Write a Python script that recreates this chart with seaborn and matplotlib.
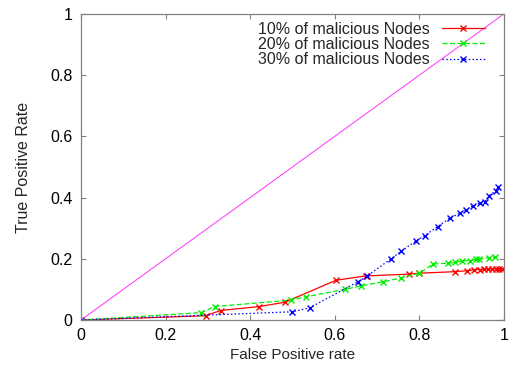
import numpy as np
import pandas as pd
import matplotlib
matplotlib.use("Agg")
import matplotlib.pyplot as plt
import seaborn as sns

# ROC points (false positive rate, true positive rate)
fpr_10 = [0, 0.295, 0.33, 0.421, 0.482, 0.603, 0.673, 0.775, 0.80, 0.884,
          0.912, 0.929, 0.943, 0.953, 0.962, 0.972, 0.981, 0.988, 0.995]
tpr_10 = [0, 0.014, 0.031, 0.044, 0.058, 0.130, 0.144, 0.150, 0.153, 0.158,
          0.161, 0.164, 0.165, 0.166, 0.167, 0.167, 0.168, 0.168, 0.168]

fpr_20 = [0, 0.283, 0.316, 0.496, 0.532, 0.624, 0.663, 0.715, 0.756, 0.80,
          0.833, 0.869, 0.884, 0.90, 0.92, 0.935, 0.942, 0.965, 0.979]
tpr_20 = [0, 0.024, 0.044, 0.065, 0.076, 0.100, 0.112, 0.125, 0.137, 0.153,
          0.183, 0.186, 0.188, 0.193, 0.194, 0.198, 0.199, 0.204, 0.205]

fpr_30 = [0, 0.50, 0.541, 0.655, 0.677, 0.733, 0.756, 0.793, 0.813, 0.843,
          0.872, 0.896, 0.910, 0.927, 0.943, 0.955, 0.965, 0.982, 0.986]
tpr_30 = [0, 0.027, 0.040, 0.125, 0.144, 0.200, 0.224, 0.259, 0.276, 0.305,
          0.333, 0.349, 0.360, 0.373, 0.382, 0.387, 0.406, 0.423, 0.434]

diag = [0, 1]
labels = ["10% of malicious Nodes", "20% of malicious Nodes", "30% of malicious Nodes"]
ticks = [0, 0.2, 0.4, 0.6, 0.8, 1]
tick_labels = ["0", "0.2", "0.4", "0.6", "0.8", "1"]

sns.set_theme(style="ticks")
plt.rcParams["font.family"] = ["Liberation Sans", "DejaVu Sans"]
plt.rcParams["font.size"] = 10

fig = plt.figure(figsize=(5.09, 3.67), dpi=100)
ax = fig.add_axes([0.159, 0.128, 0.831, 0.834])

series = [
    (fpr_10, tpr_10, labels[0], "#ff0000", "-"),
    (fpr_20, tpr_20, labels[1], "#00ee00", (0, (4, 2))),
    (fpr_30, tpr_30, labels[2], "#0000ff", (0, (1.2, 1.8))),
]
for x, y, name, col, ls in series:
    df = pd.DataFrame({"fpr": x, "tpr": y})
    sns.lineplot(data=df, x="fpr", y="tpr", ax=ax, color=col, linestyle=ls,
                 linewidth=0.9, marker="x", markersize=4, markeredgewidth=1,
                 markeredgecolor=col, sort=False, estimator=None, label=name)

# random-guess diagonal
sns.lineplot(x=diag, y=diag, ax=ax, color="#ff33ff", linewidth=0.7,
             estimator=None, legend=False)

ax.set_xlim(0, 1)
ax.set_ylim(0, 1)
ax.set_xticks(ticks)
ax.set_xticklabels(tick_labels)
ax.set_yticks(ticks)
ax.set_yticklabels(tick_labels)
ax.set_xlabel("False Positive rate", fontsize=11, labelpad=3)
ax.set_ylabel("True Positive Rate", fontsize=11.5, labelpad=14)
ax.tick_params(direction="in", length=3.5, width=0.8, color="#808080",
               top=True, right=True, labelsize=11.5, pad=6, labelcolor="black")
for s in ax.spines.values():
    s.set_color("#808080")
    s.set_linewidth(0.9)

ax.legend(loc="upper right", bbox_to_anchor=(0.955, 0.975), frameon=False,
          markerfirst=False, handlelength=2.7, handletextpad=0.75,
          labelspacing=0.02, borderaxespad=0, borderpad=0, fontsize=11.5)

fig.savefig("out.png", dpi=100)
